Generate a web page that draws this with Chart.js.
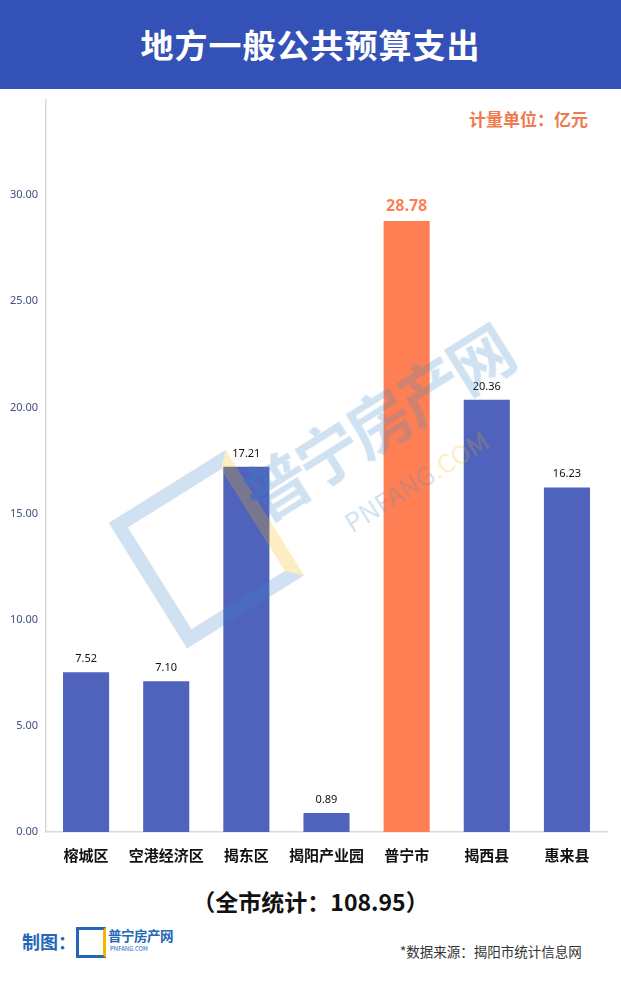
<!DOCTYPE html>
<html>
<head>
<meta charset="utf-8">
<script src="https://cdn.jsdelivr.net/npm/chart.js@4.4.0/dist/chart.umd.min.js"></script>
<style>
  body { margin: 0; width: 621px; height: 983px; background: #fff; position: relative; overflow: hidden;
         font-family: "Noto Sans CJK SC", "Noto Sans", sans-serif; }
  #head { position: absolute; left: 0; top: 0; width: 621px; height: 89px; background: #3451b8;
          color: #fff; font-size: 33px; font-weight: bold; text-align: center; line-height: 89px; letter-spacing: 1px; }
  #unit { position: absolute; right: 33px; top: 106px; color: #f07a50; font-size: 17px; font-weight: bold; }
  #wrap { position: absolute; left: 0; top: 85px; width: 621px; height: 796px; }
  #mark { position: absolute; left: 135px; top: 355px; width: 420px; height: 300px; transform: rotate(-32deg);
          opacity: 0.24; pointer-events: none; z-index: 5; white-space: nowrap; }
  #mark .big { font-size: 64px; font-weight: bold; color: #3a86c6; position: absolute; left: 131px; top: 48px; letter-spacing: -4px; }
  #mark .small { font-size: 26px; color: #3a86c6; position: absolute; left: 201px; top: 148px; }
  #mark .small span { color: #f5b400; }
  #mark .box { position: absolute; left: 0; top: 40px; width: 110px; height: 120px; border: 14px solid #3a86c6;
               border-right-color: #f5b400; }
  #total { position: absolute; left: 0; width: 621px; top: 884px; text-align: center; font-size: 23px; font-weight: bold; color: #111; }
  #maker { position: absolute; left: 22px; top: 928px; font-size: 18px; font-weight: bold; color: #2467b7; }
  #logo { position: absolute; left: 76px; top: 927px; width: 24px; height: 25px; border: 3px solid #2467b7; border-right-color: #f5b400; }
  #logotxt { position: absolute; left: 108px; top: 925px; font-size: 13.5px; font-weight: bold; color: #2467b7; letter-spacing: -0.5px; }
  #logosub { position: absolute; left: 110px; top: 944px; font-size: 6px; color: #2467b7; }
  #src { position: absolute; left: 400px; top: 941px; font-size: 13.5px; color: #333; }
</style>
</head>
<body>
<div id="head">地方一般公共预算支出</div>
<div id="unit">计量单位：亿元</div>
<div id="wrap"><canvas id="barChart"></canvas></div>
<div id="mark"><div class="box"></div><div class="big">普宁房产网</div><div class="small">PNFANG<span>.COM</span></div></div>
<div id="total">（全市统计：108.95）</div>
<div id="maker">制图：</div>
<div id="logo"></div>
<div id="logotxt">普宁房产网</div>
<div id="logosub">PNFANG.COM</div>
<div id="src">*数据来源：揭阳市统计信息网</div>
<script>
// Data
const districts = ['榕城区', '空港经济区', '揭东区', '揭阳产业园', '普宁市', '揭西县', '惠来县'];
const spending = [7.52, 7.10, 17.21, 0.89, 28.78, 20.36, 16.23];
const highlight = '普宁市';

const blue = '#4f63bd';
const orange = '#ff7f55';
const barColors = districts.map(d => d === highlight ? orange : blue);

// value labels above bars
const valueLabels = {
    id: 'valueLabels',
    afterDatasetsDraw(chart) {
        const ctx = chart.ctx;
        const meta = chart.getDatasetMeta(0);
        ctx.save();
        ctx.textAlign = 'center';
        ctx.textBaseline = 'alphabetic';
        meta.data.forEach((bar, i) => {
            const hot = districts[i] === highlight;
            ctx.fillStyle = hot ? orange : '#111';
            ctx.font = hot ? 'bold 16px "Noto Sans", sans-serif' : '11px "Noto Sans", sans-serif';
            ctx.fillText(spending[i].toFixed(2), bar.x, bar.y - 10);
        });
        ctx.restore();
    }
};

const ctxBar = document.getElementById('barChart').getContext('2d');
new Chart(ctxBar, {
    type: 'bar',
    data: {
        labels: districts,
        datasets: [{
            data: spending,
            backgroundColor: barColors,
            borderWidth: 0,
            barPercentage: 0.575,
            categoryPercentage: 1
        }]
    },
    options: {
        responsive: true,
        maintainAspectRatio: false,
        animation: false,
        layout: { padding: { top: 0, right: 14, left: 0, bottom: 0 } },
        plugins: { legend: { display: false }, tooltip: { enabled: false } },
        scales: {
            x: {
                grid: { display: false, drawTicks: false },
                border: { color: '#d9d9d9', width: 1.5 },
                ticks: { color: '#111', padding: 14, maxRotation: 0, minRotation: 0, autoSkip: false,
                         font: { size: 15, weight: 'bold', family: '"Noto Sans CJK SC"' } },
                afterFit(axis) { axis.height = 49; }
            },
            y: {
                min: 0,
                max: 34.5,
                grid: { display: false, drawTicks: false },
                border: { color: '#d9d9d9', width: 1.5 },
                ticks: {
                    stepSize: 5,
                    padding: 8,
                    color: '#3f4f80',
                    font: { size: 11, family: '"Noto Sans", sans-serif' },
                    callback: v => (v % 5 === 0 ? v.toFixed(2) : '')
                },
                afterFit(axis) { axis.width = 46; }
            }
        }
    },
    plugins: [valueLabels]
});
</script>
</body>
</html>
